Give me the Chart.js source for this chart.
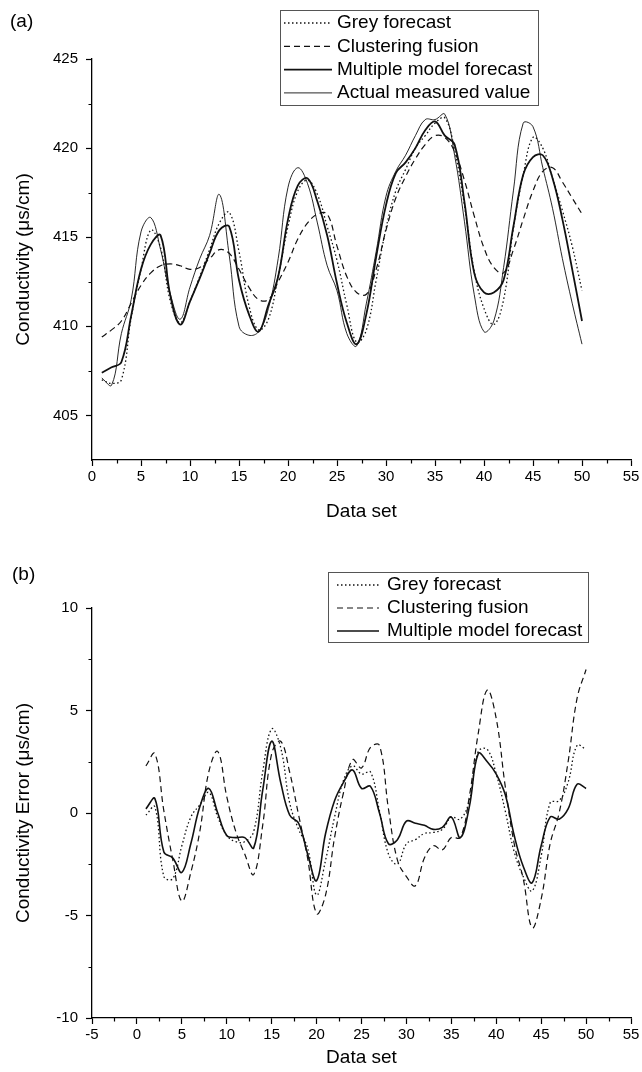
<!DOCTYPE html>
<html>
<head>
<meta charset="utf-8">
<script src="https://cdn.jsdelivr.net/npm/chart.js@4.4.1/dist/chart.umd.min.js"></script>
<style>
  html, body { margin: 0; padding: 0; background: #fff; }
  .wrap { position: relative; width: 642px; height: 1072px; }
  #chartA { position: absolute; left: 0; top: 0; }
  #chartB { position: absolute; left: 0; top: 540px; }
</style>
</head>
<body>
<div class="wrap">
  <canvas id="chartA" width="642" height="540"></canvas>
  <canvas id="chartB" width="642" height="532"></canvas>
</div>
<script>
// data set index (x axis)
var dataSet = [1, 2, 3, 4, 5, 6, 7, 8, 9, 10, 11, 12, 13, 14, 15, 16, 17, 18, 19, 20,
  21, 22, 23, 24, 25, 26, 27, 28, 29, 30, 31, 32, 33, 34, 35, 36, 37, 38, 39, 40,
  41, 42, 43, 44, 45, 46, 47, 48, 49, 50];

// (a) conductivity, us/cm
var greyA = [407.0, 406.8, 407.0, 410.5, 413.2, 415.4, 414.4, 411.4, 410.2, 411.4,
  412.8, 414.3, 415.8, 416.4, 414.2, 411.2, 409.8, 410.4, 412.8, 415.6,
  417.6, 418.2, 417.4, 415.6, 413.7, 411.2, 409.1, 409.8, 412.6, 415.5,
  417.6, 418.8, 420.0, 420.7, 421.4, 421.7, 419.9, 416.8, 413.1, 411.0,
  410.1, 411.5, 415.5, 418.5, 420.6, 420.0, 418.3, 416.5, 414.5, 412.0];
var clusterA = [409.4, 409.8, 410.3, 411.3, 412.3, 413.0, 413.4, 413.5, 413.4, 413.2,
  413.3, 413.8, 414.3, 414.1, 413.2, 412.2, 411.5, 411.5, 412.5, 413.6,
  414.9, 415.8, 416.3, 416.3, 414.5, 412.8, 411.9, 411.8, 413.2, 415.4,
  417.2, 418.4, 419.4, 420.2, 420.7, 420.6, 419.8, 418.2, 416.2, 414.4,
  413.3, 413.0, 414.3, 416.0, 417.6, 418.7, 418.9, 418.1, 417.2, 416.3];
var multipleA = [407.4, 407.7, 408.0, 410.6, 413.2, 414.6, 415.1, 411.7, 410.1, 411.4,
  412.7, 414.1, 415.4, 415.6, 412.6, 410.7, 409.7, 411.2, 412.8, 416.0,
  417.9, 418.3, 417.0, 415.1, 412.4, 410.2, 409.0, 410.7, 413.9, 416.8,
  418.6, 419.2, 420.0, 421.0, 421.5, 420.7, 420.2, 417.0, 413.0, 411.9,
  411.9, 412.6, 415.6, 418.5, 419.5, 419.6, 418.3, 416.0, 413.2, 410.3];
var actualA = [407.1, 406.7, 409.6, 411.5, 415.3, 416.1, 414.3, 411.8, 410.4, 412.2,
  413.8, 415.1, 417.4, 414.0, 410.0, 409.5, 409.7, 411.0, 413.8, 417.8,
  418.9, 418.0, 415.8, 413.4, 412.0, 409.6, 408.9, 411.3, 414.2, 417.3,
  418.7, 419.6, 420.7, 421.6, 421.6, 421.9, 419.6, 415.9, 411.8, 409.7,
  410.3, 413.3, 417.6, 421.4, 421.2, 418.9, 416.6, 413.8, 411.3, 409.0];

// (b) conductivity error, us/cm
var greyB = [-0.1, 0.3, -3.1, -3.2, -1.6, -0.2, 0.4, 1.0, -0.2, -1.1,
  -1.4, -1.4, -0.9, 2.0, 4.1, 3.2, 0.5, -0.8, -1.7, -4.0,
  -2.3, -0.2, 1.6, 2.3, 1.9, 2.0, 0.1, -2.0, -2.5, -1.5,
  -1.3, -1.0, -0.95, -0.8, -0.2, -0.3, 0.6, 3.0, 3.1, 1.9,
  0.1, -1.9, -3.1, -3.8, -2.1, 0.5, 0.6, 1.5, 3.3, 3.1];
var clusterB = [2.3, 2.9, 0.1, -2.3, -4.3, -2.9, -0.9, 2.0, 3.0, 0.8,
  -0.9, -2.0, -3.0, -0.6, 2.9, 3.5, 2.0, -0.1, -2.2, -4.9,
  -4.0, -1.2, 1.0, 2.6, 2.2, 3.2, 3.3, 0.2, -2.3, -3.1,
  -3.55, -2.2, -1.6, -1.8, -1.2, -1.2, 0.8, 3.9, 6.0, 4.6,
  1.3, -1.5, -3.2, -5.6, -4.2, -1.5, 0.0, 2.5, 5.6, 7.0];
var multipleB = [0.2, 0.7, -1.9, -2.2, -2.9, -1.5, 0.3, 1.2, 0.0, -1.1,
  -1.2, -1.2, -1.7, 1.1, 3.5, 1.5, -0.1, -0.5, -2.0, -3.3,
  -1.0, 0.6, 1.5, 2.1, 1.2, 1.3, 0.0, -1.5, -1.3, -0.4,
  -0.5, -0.6, -0.8, -0.7, -0.2, -1.2, 0.3, 2.9, 2.5, 1.9,
  0.9, -1.1, -2.6, -3.4, -1.6, -0.2, -0.3, 0.2, 1.4, 1.2];

// tick values
var xTicksA = [0, 5, 10, 15, 20, 25, 30, 35, 40, 45, 50, 55];
var xMinorA = [2.5, 7.5, 12.5, 17.5, 22.5, 27.5, 32.5, 37.5, 42.5, 47.5, 52.5];
var yTicksA = [405, 410, 415, 420, 425];
var yMinorA = [407.5, 412.5, 417.5, 422.5];
var xTicksB = [-5, 0, 5, 10, 15, 20, 25, 30, 35, 40, 45, 50, 55];
var xMinorB = [-2.5, 2.5, 7.5, 12.5, 17.5, 22.5, 27.5, 32.5, 37.5, 42.5, 47.5, 52.5];
var yTicksB = [-10, -5, 0, 5, 10];
var yMinorB = [-7.5, -2.5, 2.5, 7.5];

var FONT = '"Liberation Sans", Arial, Helvetica, sans-serif';
var INK = '#111';

Chart.defaults.font.family = FONT;
Chart.defaults.color = '#000';

function fixedTicks(values) {
  return function (scale) {
    scale.ticks = values.map(function (v) { return { value: v }; });
  };
}

// small ticks between the labelled ones, placed through the chart scales
var minorTicks = {
  id: 'minorTicks',
  afterDraw: function (chart, args, opts) {
    var ctx = chart.ctx, area = chart.chartArea;
    var xs = chart.scales.x, ys = chart.scales.y;
    ctx.save();
    ctx.strokeStyle = '#000';
    ctx.lineWidth = 1.2;
    ctx.beginPath();
    opts.x.forEach(function (v) {
      var px = Math.round(xs.getPixelForValue(v)) + 0.5;
      ctx.moveTo(px, area.bottom);
      ctx.lineTo(px, area.bottom + 3.5);
    });
    opts.y.forEach(function (v) {
      var py = Math.round(ys.getPixelForValue(v)) + 0.5;
      ctx.moveTo(area.left, py);
      ctx.lineTo(area.left - 3.5, py);
    });
    ctx.stroke();
    ctx.restore();
  }
};

// boxed legend and panel letter, Origin style
var boxLegend = {
  id: 'boxLegend',
  afterDraw: function (chart, args, opts) {
    var ctx = chart.ctx;
    ctx.save();
    ctx.fillStyle = '#000';
    ctx.textBaseline = 'middle';
    ctx.font = '19px ' + FONT;
    ctx.fillText(opts.panel, opts.panelX, opts.panelY);

    ctx.strokeStyle = '#555';
    ctx.lineWidth = 1;
    ctx.strokeRect(opts.left + 0.5, opts.top + 0.5, opts.width, opts.height);

    chart.data.datasets.forEach(function (ds, i) {
      var y = opts.rowY + i * opts.rowGap;
      ctx.save();
      ctx.strokeStyle = ds.borderColor;
      ctx.lineWidth = ds.borderWidth;
      ctx.setLineDash(ds.borderDash || []);
      ctx.beginPath();
      ctx.moveTo(opts.sampleX0, y);
      ctx.lineTo(opts.sampleX1, y);
      ctx.stroke();
      ctx.restore();
      ctx.fillText(ds.label, opts.textX, y);
    });
    ctx.restore();
  }
};

function series(label, values, dash, width) {
  return {
    label: label,
    data: values,
    borderColor: INK,
    borderWidth: width,
    borderDash: dash,
    pointRadius: 0,
    tension: 0.4,
    fill: false
  };
}

function axisX(min, max, ticks, height, titlePad) {
  return {
    type: 'linear',
    min: min,
    max: max,
    afterBuildTicks: fixedTicks(ticks),
    afterFit: function (s) { s.height = height; },
    border: { display: true, color: '#000', width: 1.3 },
    grid: { drawOnChartArea: false, drawTicks: true, tickLength: 6, color: '#000', tickWidth: 1.2 },
    ticks: { font: { size: 15 }, padding: 2, maxRotation: 0, autoSkip: false, color: '#000' },
    title: { display: true, text: 'Data set', font: { size: 19 }, color: '#000', padding: { top: 0, bottom: titlePad } }
  };
}

function axisY(min, max, ticks, title) {
  return {
    min: min,
    max: max,
    afterBuildTicks: fixedTicks(ticks),
    afterFit: function (s) { s.width = 92; },
    border: { display: true, color: '#000', width: 1.3 },
    grid: { drawOnChartArea: false, drawTicks: true, tickLength: 6, color: '#000', tickWidth: 1.2 },
    ticks: { font: { size: 15 }, padding: 8, autoSkip: false, color: '#000' },
    title: { display: true, text: title, font: { size: 19 }, color: '#000', padding: { top: 12, bottom: 0 } }
  };
}

var chartA = new Chart(document.getElementById('chartA'), {
  type: 'line',
  data: {
    labels: dataSet,
    datasets: [
      series('Grey forecast', greyA, [1.5, 2.5], 1.3),
      series('Clustering fusion', clusterA, [6, 4], 1.2),
      series('Multiple model forecast', multipleA, [], 1.8),
      series('Actual measured value', actualA, [], 0.9)
    ]
  },
  options: {
    responsive: false,
    animation: false,
    devicePixelRatio: 1,
    layout: { padding: { top: 59, right: 11, bottom: 0, left: 0 } },
    scales: {
      x: axisX(0, 55, xTicksA, 80, 17),
      y: axisY(402.5, 425, yTicksA, 'Conductivity (μs/cm)')
    },
    plugins: {
      legend: { display: false },
      tooltip: { enabled: false },
      minorTicks: { x: xMinorA, y: yMinorA },
      boxLegend: {
        panel: '(a)', panelX: 10, panelY: 22,
        left: 280, top: 10, width: 258, height: 95,
        rowY: 23, rowGap: 23.3, sampleX0: 284, sampleX1: 332, textX: 337
      }
    }
  },
  plugins: [minorTicks, boxLegend]
});

var chartB = new Chart(document.getElementById('chartB'), {
  type: 'line',
  data: {
    labels: dataSet,
    datasets: [
      series('Grey forecast', greyB, [1.5, 2.5], 1.3),
      series('Clustering fusion', clusterB, [6, 4], 1.2),
      series('Multiple model forecast', multipleB, [], 1.6)
    ]
  },
  options: {
    responsive: false,
    animation: false,
    devicePixelRatio: 1,
    layout: { padding: { top: 68, right: 11, bottom: 0, left: 0 } },
    scales: {
      x: axisX(-5, 55, xTicksB, 54, 3),
      y: axisY(-10, 10, yTicksB, 'Conductivity Error (μs/cm)')
    },
    plugins: {
      legend: { display: false },
      tooltip: { enabled: false },
      minorTicks: { x: xMinorB, y: yMinorB },
      boxLegend: {
        panel: '(b)', panelX: 12, panelY: 35,
        left: 328, top: 32, width: 260, height: 70,
        rowY: 45, rowGap: 23, sampleX0: 337, sampleX1: 379, textX: 387
      }
    }
  },
  plugins: [minorTicks, boxLegend]
});
</script>
</body>
</html>
